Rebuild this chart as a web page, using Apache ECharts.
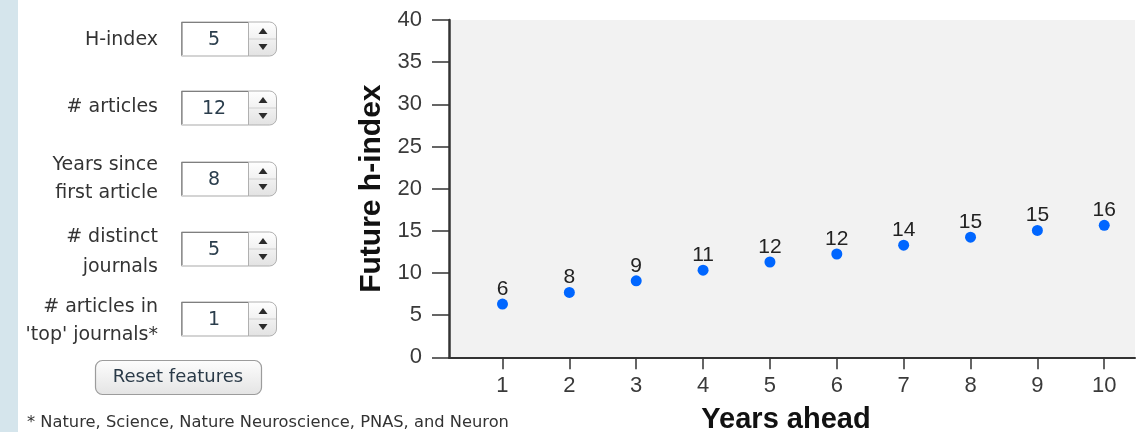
<!DOCTYPE html>
<html>
<head>
<meta charset="utf-8">
<script src="https://cdn.jsdelivr.net/npm/echarts@6/dist/echarts.min.js"></script>
<style>
  html, body { margin: 0; padding: 0; background: #ffffff; }
  #chart { width: 1137px; height: 432px; }
</style>
</head>
<body>
<div id="chart"></div>
<script>
// ---- data ----
var yearsAhead = [1, 2, 3, 4, 5, 6, 7, 8, 9, 10];
var futureH = [6.31, 7.69, 9.07, 10.33, 11.3, 12.25, 13.3, 14.25, 15.05, 15.65];
var futureHLabels = ['6', '8', '9', '11', '12', '12', '14', '15', '15', '16'];
var xTickValues = [1, 2, 3, 4, 5, 6, 7, 8, 9, 10];

// ---- form (left panel) ----
var featureLabels = [['H-index'], ['# articles'], ['Years since', 'first article'], ['# distinct', 'journals'], ['# articles in', "'top' journals*"]];
var featureValues = ['5', '12', '8', '5', '1'];
var resetText = 'Reset features';
var footnote = '* Nature, Science, Nature Neuroscience, PNAS, and Neuron';

var FORM_FONT = 'DejaVu Sans';
var CHART_FONT = 'Liberation Sans';

var boxCenters = [39, 108, 179, 249, 319];
var labelYs = [[40], [107], [165, 193], [237, 267], [307, 335]];

var graphics = [];
// light blue strip at the far left
graphics.push({ type: 'rect', shape: { x: 0, y: 0, width: 18, height: 432 }, style: { fill: '#d5e5ec' }, silent: true });

function txt(s, x, y, size, color, align) {
  return {
    type: 'text', silent: true,
    style: {
      text: s, x: x, y: y, fill: color,
      fontSize: size, fontFamily: FORM_FONT,
      align: align, textAlign: align,
      verticalAlign: 'middle', textVerticalAlign: 'middle'
    }
  };
}

for (var i = 0; i < featureLabels.length; i++) {
  var cy = boxCenters[i];
  for (var j = 0; j < featureLabels[i].length; j++) {
    graphics.push(txt(featureLabels[i][j], 158, labelYs[i][j], 19, '#333333', 'right'));
  }
  // text field
  graphics.push({ type: 'rect', silent: true, shape: { x: 181.5, y: cy - 17, width: 67, height: 34 },
    style: { fill: '#ffffff', stroke: '#a9a9a9', lineWidth: 1 } });
  graphics.push({ type: 'polyline', silent: true, shape: { points: [[182, cy + 16], [182, cy - 16.5], [248, cy - 16.5]] },
    style: { stroke: '#7f7f7f', lineWidth: 1.2, fill: null } });
  // spinner
  graphics.push({ type: 'rect', silent: true, shape: { x: 248.5, y: cy - 17, width: 28, height: 34, r: [0, 7, 7, 0] },
    style: {
      fill: new echarts.graphic.LinearGradient(0, 0, 0, 1, [
        { offset: 0, color: '#ffffff' }, { offset: 0.5, color: '#f1f1f1' }, { offset: 1, color: '#e2e2e2' }]),
      stroke: '#b0b0b0', lineWidth: 1 } });
  graphics.push({ type: 'line', silent: true, shape: { x1: 249, y1: cy, x2: 276, y2: cy }, style: { stroke: '#d0d0d0', lineWidth: 1 } });
  graphics.push({ type: 'polygon', silent: true, shape: { points: [[258.5, cy - 5], [267.5, cy - 5], [263, cy - 11]] }, style: { fill: '#2b2b2b' } });
  graphics.push({ type: 'polygon', silent: true, shape: { points: [[258.5, cy + 5], [267.5, cy + 5], [263, cy + 11]] }, style: { fill: '#2b2b2b' } });
  // value
  graphics.push(txt(featureValues[i], 214, cy + 1, 19, '#2a3d4c', 'center'));
}

// reset button
graphics.push({ type: 'rect', silent: true, shape: { x: 95.5, y: 360.5, width: 166, height: 34, r: 7 },
  style: {
    fill: new echarts.graphic.LinearGradient(0, 0, 0, 1, [
      { offset: 0, color: '#fdfdfd' }, { offset: 1, color: '#e4e4e4' }]),
    stroke: '#9c9c9c', lineWidth: 1.2 } });
graphics.push(txt(resetText, 178, 377, 18, '#2a3a48', 'center'));
// footnote
graphics.push(txt(footnote, 27, 423, 16.3, '#333333', 'left'));

var chart = echarts.init(document.getElementById('chart'), null, { renderer: 'canvas' });
chart.setOption({
  animation: false,
  backgroundColor: '#ffffff',
  graphic: graphics,
  grid: {
    left: 449, top: 20, right: 2, bottom: 74.7,
    outerBoundsMode: 'none', containLabel: false,
    show: true, backgroundColor: '#f2f2f2', borderWidth: 0
  },
  xAxis: {
    type: 'value',
    min: 0.2, max: 10.46,
    name: 'Years ahead', nameLocation: 'middle', nameGap: 48,
    nameTextStyle: { fontSize: 29, fontWeight: 'bold', color: '#111111', fontFamily: CHART_FONT, padding: [0, 12, 0, 0] },
    splitLine: { show: false },
    axisLine: { show: true, onZero: false, lineStyle: { color: '#333333', width: 2 } },
    axisTick: { show: true, length: 12, customValues: xTickValues, lineStyle: { color: '#333333', width: 1.5 } },
    axisLabel: { customValues: xTickValues, fontSize: 22, color: '#3a3a3a', margin: 18, fontFamily: CHART_FONT }
  },
  yAxis: {
    type: 'value',
    min: 0, max: 40, interval: 5,
    name: 'Future h-index', nameLocation: 'middle', nameGap: 53,
    nameTextStyle: { fontSize: 30, fontWeight: 'bold', color: '#111111', fontFamily: CHART_FONT },
    splitLine: { show: false },
    axisLine: { show: true, lineStyle: { color: '#333333', width: 2.5 } },
    axisTick: { show: true, length: 17, lineStyle: { color: '#333333', width: 1.5 } },
    axisLabel: { fontSize: 22, color: '#3a3a3a', margin: 27, fontFamily: CHART_FONT }
  },
  series: [{
    type: 'scatter',
    data: yearsAhead.map(function (y, k) { return [y, futureH[k]]; }),
    symbolSize: 11,
    itemStyle: { color: '#0066ff', opacity: 1 },
    label: {
      show: true, position: 'top', distance: -1,
      formatter: function (p) { return futureHLabels[p.dataIndex]; },
      fontSize: 21, color: '#222222', fontFamily: CHART_FONT
    }
  }]
});
</script>
</body>
</html>
